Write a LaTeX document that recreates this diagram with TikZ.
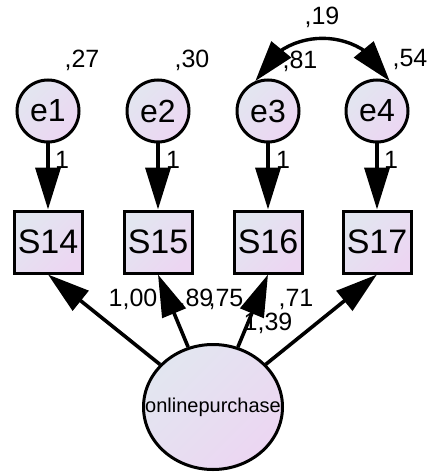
\documentclass[tikz,border=0pt]{standalone}
\usepackage{fontspec}
\setmainfont{Liberation Sans}
\usetikzlibrary{arrows.meta,shapes.geometric,bending}
\definecolor{shA}{RGB}{226,230,240}
\definecolor{shB}{RGB}{236,214,242}
\begin{document}
\begin{tikzpicture}[x=1pt,y=-1pt,
  grad/.style={top color=shA,bottom color=shB,shading angle=45},
  errnode/.style={circle,draw,line width=3pt,grad,minimum size=62pt,inner sep=0pt,font=\fontsize{32}{32}\selectfont},
  obsnode/.style={rectangle,draw,line width=3pt,grad,minimum width=68pt,minimum height=62pt,inner sep=0pt,font=\fontsize{34}{34}\selectfont},
  latnode/.style={ellipse,draw,line width=3pt,grad,minimum width=139pt,minimum height=125pt,inner sep=0pt,inner xsep=-50pt,font=\fontsize{20}{20}\selectfont},
  lbl/.style={inner sep=0pt,font=\fontsize{25}{25}\selectfont},
  arr/.style={line width=3.6pt,-{Triangle[length=42pt,width=25pt]}},
  darr/.style={line width=3.4pt,{Triangle[length=41pt,width=25pt,flex]}-{Triangle[length=41pt,width=25pt,flex]}}
]
\useasboundingbox (0,0) rectangle (427,473);
% nodes
\node[errnode] (e1) at (48,111) {e1};
\node[errnode] (e2) at (158,111) {e2};
\node[errnode] (e3) at (268,111) {e3};
\node[errnode] (e4) at (377,111) {e4};
\node[obsnode] (S14) at (48,242) {S14};
\node[obsnode] (S15) at (158,242) {S15};
\node[obsnode] (S16) at (268,242) {S16};
\node[obsnode] (S17) at (377,242) {S17};
\node[latnode] (op) at (213,407) {onlinepurchase};
% labels
\node[lbl] (v1) at (82,60) {,27};
\node[lbl] (v2) at (192,60) {,30};
\node[lbl] (v3) at (300,61) {,81};
\node[lbl] (v4) at (410,60) {,54};
\node[lbl] (c34) at (322,17) {,19};
\node[lbl] (l1) at (62,160) {1};
\node[lbl] (l2) at (173,160) {1};
\node[lbl] (l3) at (283,160) {1};
\node[lbl] (l4) at (391,160) {1};
\node[lbl] (w1) at (133,299) {1,00};
\node[lbl] (w2) at (196,299) {,89};
\node[lbl] (w3) at (226,299) {,75};
\node[lbl] (w4) at (296,299) {,71};
\node[lbl] (w5) at (268,323) {1,39};
% connectors
\draw[arr] (e1) -- (S14);
\draw[arr] (e2) -- (S15);
\draw[arr] (e3) -- (S16);
\draw[arr] (e4) -- (S17);
\draw[arr] (op) -- (S14.south);
\draw[arr] (op) -- (S15.south);
\draw[arr] (op) -- (S16.south);
\draw[arr] (op) -- (S17.south);
\draw[darr] (e3.113) .. controls +(25,-57) and +(-25,-57) .. (e4.67);
\end{tikzpicture}
\end{document}
